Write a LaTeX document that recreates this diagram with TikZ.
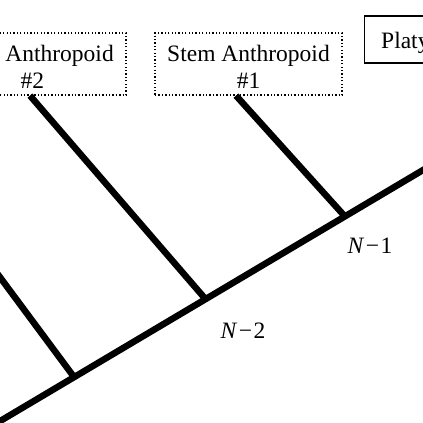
\documentclass[tikz,border=0pt]{standalone}
\usepackage{fontspec}
\setmainfont{Liberation Serif}
\usetikzlibrary{calc}
\begin{document}
\begin{tikzpicture}[x=1pt,y=-1pt,
  branch/.style={line width=6.5pt, line cap=butt},
  dotbox/.style={draw, line width=1.3pt, dash pattern=on 1.3pt off 2.1pt,
    minimum width=187pt, minimum height=62pt, inner sep=0pt, align=center,
    font=\fontsize{23.5}{27}\selectfont},
  solidbox/.style={draw, line width=1.4pt, inner xsep=17pt, inner ysep=10pt,
    text height=22pt, text depth=5pt, font=\fontsize{23.5}{27}\selectfont},
  lab/.style={font=\fontsize{23.5}{27}\selectfont, inner sep=0pt}]
\useasboundingbox (0,0) rectangle (423,423);
\clip (0,0) rectangle (423,423);
% boxes
\node[dotbox] (s2) at (32.5,64) {\rule{0pt}{22pt}Stem Anthropoid\\\#2};
\node[dotbox] (s1) at (248.5,64) {\rule{0pt}{22pt}Stem Anthropoid\\\#1};
\node[solidbox, anchor=base west] (p) at (363.5,48) {Platyrrhini};
% tree
\coordinate (root) at (-20,433);
\coordinate (tip) at (445,157);
\coordinate (n3) at (74,377);
\coordinate (n2) at (205,298.5);
\coordinate (n1) at (345,216.5);
\coordinate (t3) at (-15,257);
\coordinate (t2) at ($(s2.south)+(-2.5,0)$);
\coordinate (t1) at ($(s1.south)+(-12.5,0)$);
\draw[branch] (root) -- (tip);
\draw[branch] (n3) -- (t3);
\draw[branch] (n2) -- (t2);
\draw[branch] (n1) -- (t1);
% labels
\node[lab, anchor=base] (l1) at (370,253) {\textit{N}\kern1.5pt−\kern1.5pt1};
\node[lab, anchor=base] (l2) at (243,338) {\textit{N}\kern1.5pt−\kern1.5pt2};
\end{tikzpicture}
\end{document}
